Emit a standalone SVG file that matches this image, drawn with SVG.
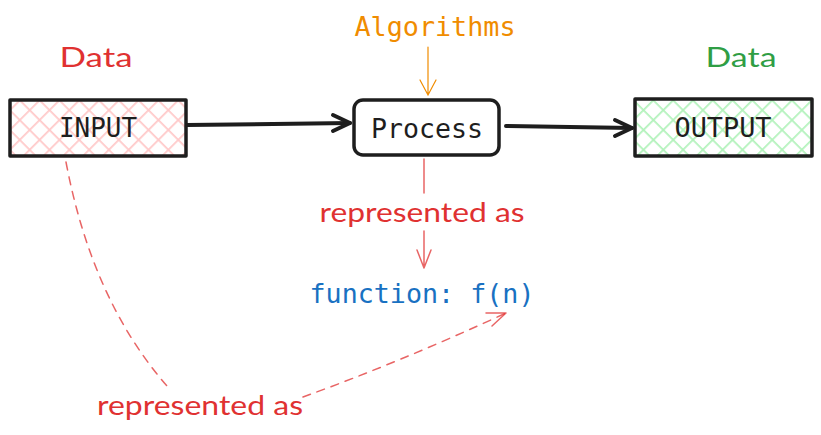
<svg xmlns="http://www.w3.org/2000/svg" width="821" height="435" viewBox="0 0 821 435">
<style>
.hand{font-family:"Lato","Open Sans","Liberation Sans",sans-serif;font-size:27px}
.code{font-family:"DejaVu Sans Mono","Liberation Mono",monospace;font-size:26px}
.box{stroke:#1e1e1e;stroke-width:3.5;stroke-linejoin:round}
.main{fill:none;stroke:#1e1e1e;stroke-width:4;stroke-linecap:round;stroke-linejoin:round}
.red{fill:none;stroke:#e03131;stroke-opacity:0.75;stroke-width:1.5;stroke-linecap:round;stroke-linejoin:round}
.dash{stroke-dasharray:8 7}
</style>
<defs>
<pattern id="hatchRed" patternUnits="userSpaceOnUse" width="14" height="14" patternTransform="rotate(45)">
<rect width="14" height="14" fill="#fff"/>
<line x1="0" y1="0" x2="0" y2="14" stroke="#ffc9c9" stroke-width="3.5"/>
<line x1="0" y1="0" x2="14" y2="0" stroke="#ffc9c9" stroke-width="3.5"/>
</pattern>
<pattern id="hatchGreen" patternUnits="userSpaceOnUse" width="14" height="14" patternTransform="rotate(45)">
<rect width="14" height="14" fill="#fff"/>
<line x1="0" y1="0" x2="0" y2="14" stroke="#b2f2bb" stroke-width="3.5"/>
<line x1="0" y1="0" x2="14" y2="0" stroke="#b2f2bb" stroke-width="3.5"/>
</pattern>
</defs>
<rect width="821" height="435" fill="#ffffff"/>

<g id="connectors">
<path class="main" d="M187,125 L350,123"/>
<path class="main" d="M333,115 L350,123 L333,131"/>
<path class="main" d="M506,126 L632,128"/>
<path class="main" d="M615,120 L632,128 L615,136"/>
<path d="M428,47 L428,95 M420,80 L428,95 L436,80" fill="none" stroke="#f08c00" stroke-width="1.2" stroke-linecap="round"/>
<path class="red" d="M424,159 L424,193"/>
<path class="red" d="M424,231 L424,268 M417,250 L424,268 L431,250"/>
<path class="red dash" d="M66,162 Q92,300 167,386"/>
<path class="red dash" d="M303,397 Q400,362 506,313"/>
<path class="red" d="M486,313 L506,313 L492,326"/>
</g>

<g id="input">
<rect x="10" y="100" width="176" height="56" fill="url(#hatchRed)" class="box"/>
<text x="98" y="137" class="code" text-anchor="middle" fill="#1e1e1e" textLength="78" lengthAdjust="spacingAndGlyphs">INPUT</text>
</g>
<g id="input-label">
<text x="96" y="67" class="hand" text-anchor="middle" fill="#e03131" textLength="73" lengthAdjust="spacingAndGlyphs">Data</text>
</g>

<g id="process">
<rect x="354" y="100" width="145" height="55" rx="9" fill="#ffffff" class="box"/>
<text x="427" y="138" class="code" text-anchor="middle" fill="#1e1e1e" textLength="112" lengthAdjust="spacingAndGlyphs">Process</text>
</g>
<g id="algorithms">
<text x="435" y="36" class="code" text-anchor="middle" fill="#f08c00" textLength="161" lengthAdjust="spacingAndGlyphs">Algorithms</text>
</g>

<g id="output">
<rect x="635" y="99" width="177" height="57" fill="url(#hatchGreen)" class="box"/>
<text x="723" y="137" class="code" text-anchor="middle" fill="#1e1e1e" textLength="97" lengthAdjust="spacingAndGlyphs">OUTPUT</text>
</g>
<g id="output-label">
<text x="741" y="67" class="hand" text-anchor="middle" fill="#2f9e44" textLength="71" lengthAdjust="spacingAndGlyphs">Data</text>
</g>

<g id="label-process">
<text x="422" y="222" class="hand" text-anchor="middle" fill="#e03131" textLength="205" lengthAdjust="spacingAndGlyphs">represented as</text>
</g>
<g id="function">
<text x="422" y="303" class="code" text-anchor="middle" fill="#1971c2" textLength="225" lengthAdjust="spacingAndGlyphs">function: f(n)</text>
</g>
<g id="label-input">
<text x="200" y="415" class="hand" text-anchor="middle" fill="#e03131" textLength="206" lengthAdjust="spacingAndGlyphs">represented as</text>
</g>
</svg>
